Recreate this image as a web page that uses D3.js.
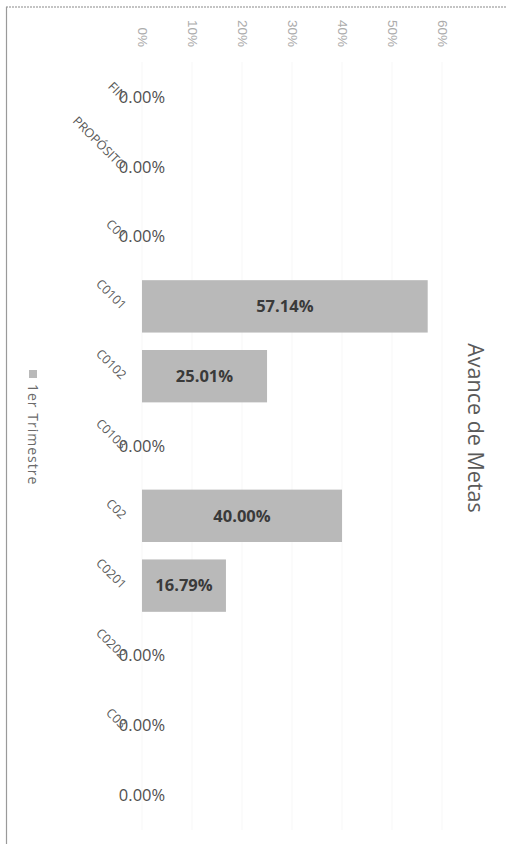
<!DOCTYPE html>
<html>
<head>
<meta charset="utf-8">
<script src="https://cdn.jsdelivr.net/npm/d3@7"></script>
<style>
html,body{margin:0;padding:0;background:#fff;}
svg{display:block;}
</style>
</head>
<body>
<svg id="chart" width="507" height="844"></svg>
<script>
const categories = ["FIN","PROPÓSITO","C01","C0101","C0102","C0103","C02","C0201","C0202","C03",""];
const values = [0, 0, 0, 57.14, 25.01, 0, 40.00, 16.79, 0, 0, 0];
const tickValues = [0,10,20,30,40,50,60];
const tickLabels = ["0%","10%","20%","30%","40%","50%","60%"];
const seriesName = "1er Trimestre";
const title = "Avance de Metas";

const svg = d3.select("#chart");

// frame
svg.append("line").attr("x1",6).attr("y1",7).attr("x2",507).attr("y2",7)
  .attr("stroke","#8a8a8a").attr("stroke-width",1.2).attr("stroke-dasharray","2,1");
svg.append("line").attr("x1",6.5).attr("y1",7).attr("x2",6.5).attr("y2",844)
  .attr("stroke","#9a9a9a").attr("stroke-width",1.2);

const x = d3.scaleLinear().domain([0,60]).range([142,442]);
const y = d3.scaleBand().domain(categories.map((c,i)=>i)).range([62,830]).paddingInner(0.25).paddingOuter(0.125);

// gridlines
svg.append("g").selectAll("line").data(tickValues).join("line")
  .attr("x1",d=>x(d)).attr("x2",d=>x(d)).attr("y1",62).attr("y2",830)
  .attr("stroke","#f7f7f7").attr("stroke-width",1);

// tick labels (rotated)
const axis = d3.axisTop(x).tickValues(tickValues).tickFormat((d,i)=>tickLabels[i]).tickSize(0);
const ag = svg.append("g").attr("transform","translate(0,47)").call(axis);
ag.select(".domain").remove();
ag.selectAll("text")
  .attr("transform","rotate(90)")
  .attr("x",0).attr("y",0).attr("dy","0.35em")
  .attr("text-anchor","end")
  .attr("fill","#ababab")
  .style("font-family","'Liberation Sans Narrow', 'Liberation Sans', sans-serif")
  .style("font-size","13.5px");

// bars
svg.append("g").selectAll("rect").data(values).join("rect")
  .attr("x",x(0))
  .attr("y",(d,i)=>y(i))
  .attr("width",d=>x(d)-x(0))
  .attr("height",y.bandwidth())
  .attr("fill","#b9b9b9");

// data labels
svg.append("g").selectAll("text").data(values).join("text")
  .attr("x",d=>(x(0)+x(d))/2)
  .attr("y",(d,i)=>y(i)+y.bandwidth()/2)
  .attr("dy","0.35em")
  .attr("text-anchor","middle")
  .attr("fill",d=>d>0?"#3a3a3a":"#505050")
  .style("font-family","'Open Sans', 'DejaVu Sans', sans-serif")
  .style("font-size","16.5px")
  .style("font-weight",d=>d>0?"bold":"normal")
  .text(d=>d.toFixed(2)+"%");

// category labels
svg.append("g").selectAll("text").data(categories).join("text")
  .attr("transform",(d,i)=>`translate(121,${y(i)+y.bandwidth()/2+4}) rotate(45)`)
  .attr("text-anchor","end")
  .attr("fill","#5a5a5a")
  .style("font-family","'Open Sans', 'DejaVu Sans', sans-serif")
  .style("font-size","12.5px")
  .text(d=>d);

// title
svg.append("text")
  .attr("transform","translate(468,428) rotate(90)")
  .attr("text-anchor","middle")
  .attr("fill","#5a5a5a")
  .style("font-family","'Open Sans', 'DejaVu Sans', sans-serif")
  .style("font-size","21.5px")
  .text(title);

// legend
const lg = svg.append("g").attr("transform","translate(33,370) rotate(90)");
lg.append("rect").attr("x",0).attr("y",-4).attr("width",8).attr("height",8).attr("fill","#b9b9b9");
lg.append("text").attr("x",14).attr("y",0).attr("dy","0.33em")
  .attr("fill","#6a6a6a")
  .style("font-family","'Open Sans', 'DejaVu Sans', sans-serif")
  .style("font-size","14px")
  .style("letter-spacing","1px")
  .text(seriesName);
</script>
</body>
</html>
